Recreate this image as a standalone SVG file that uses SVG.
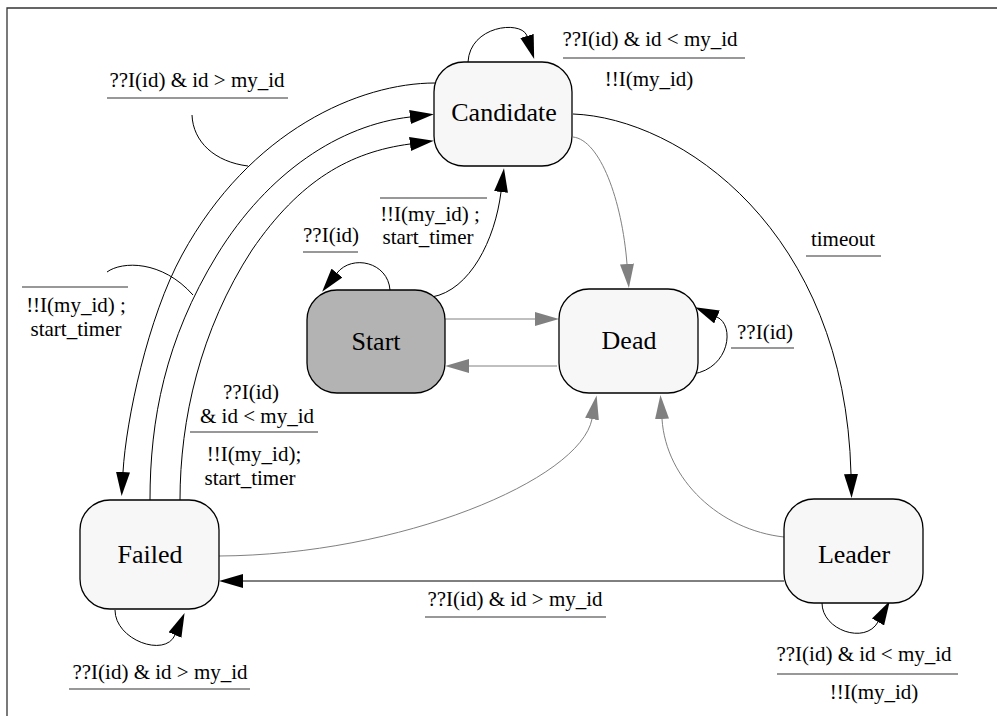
<svg xmlns="http://www.w3.org/2000/svg" width="997" height="716" viewBox="0 0 997 716">
  <style>
    .frame { fill: none; stroke: #333333; stroke-width: 1.3; }
    .node rect { fill: #f7f7f7; stroke: #000000; stroke-width: 1.3; }
    .node.initial rect { fill: #b3b3b3; }
    .node text { font-family: "Liberation Serif", "Times New Roman", serif; font-size: 26px; fill: #000000; text-anchor: middle; }
    .edge { fill: none; stroke: #000000; stroke-width: 1; }
    .edge.grey { stroke: #808080; }
    .rule { stroke: #333333; stroke-width: 1.2; }
    .deco { fill: none; stroke: #000000; stroke-width: 1; }
    .lbl { font-family: "Liberation Serif", "Times New Roman", serif; font-size: 21px; fill: #000000; text-anchor: middle; }
  </style>
  <defs>
    <marker id="arrow" markerUnits="userSpaceOnUse" viewBox="0 0 24 14" markerWidth="24" markerHeight="14" refX="0" refY="7" orient="auto">
      <path d="M0,0 L24,7 L0,14 Z" fill="#000000"/>
    </marker>
    <marker id="arrow-grey" markerUnits="userSpaceOnUse" viewBox="0 0 24 14" markerWidth="24" markerHeight="14" refX="0" refY="7" orient="auto">
      <path d="M0,0 L24,7 L0,14 Z" fill="#808080"/>
    </marker>
  </defs>

  <rect width="997" height="716" fill="#ffffff"/>
  <!-- outer frame (top and left edges) -->
  <path class="frame" d="M7,716 V8 H997"/>

  <g id="connectors">
    <!-- Candidate self-loop -->
    <g id="e-candidate-candidate">
      <path class="edge" d="M468,62 C470,25 522,20 527,36" marker-end="url(#arrow)"/>
      <text class="lbl" x="650" y="46">??I(id) &amp; id &lt; my_id</text>
      <line class="rule" x1="563" y1="58" x2="745" y2="58"/>
      <text class="lbl" x="649" y="86">!!I(my_id)</text>
    </g>
    <!-- Candidate to Failed -->
    <g id="e-candidate-failed">
      <path class="edge" d="M435,83 C360,83 250,130 182,255 C148,317 126,420 123,472" marker-end="url(#arrow)"/>
      <text class="lbl" x="197" y="87">??I(id) &amp; id &gt; my_id</text>
      <line class="rule" x1="107" y1="98" x2="288" y2="98"/>
      <path class="deco" d="M192,115 C193,142 215,162 248,166"/>
    </g>
    <!-- Failed to Candidate (timer restart) -->
    <g id="e-failed-candidate-1">
      <path class="edge" d="M150,500 C150,420 165,340 217,255 C268,172 340,125 410,117" marker-end="url(#arrow)"/>
      <line class="rule" x1="22" y1="287" x2="128" y2="287"/>
      <text class="lbl" x="76" y="312">!!I(my_id) ;</text>
      <text class="lbl" x="76" y="336">start_timer</text>
      <path class="deco" d="M107,272 C122,261 162,260 193,295"/>
    </g>
    <!-- Failed to Candidate (smaller id) -->
    <g id="e-failed-candidate-2">
      <path class="edge" d="M180,500 C180,420 200,330 252,250 C300,180 350,152 410,144" marker-end="url(#arrow)"/>
      <text class="lbl" x="251" y="399">??I(id)</text>
      <text class="lbl" x="257" y="423">&amp; id &lt; my_id</text>
      <line class="rule" x1="190" y1="432" x2="318" y2="432"/>
      <text class="lbl" x="254" y="461">!!I(my_id);</text>
      <text class="lbl" x="250" y="485">start_timer</text>
    </g>
    <!-- Start self-loop -->
    <g id="e-start-start">
      <path class="edge" d="M390,290 C388,262 352,254 337,273" marker-end="url(#arrow)"/>
      <text class="lbl" x="331" y="242">??I(id)</text>
      <line class="rule" x1="303" y1="252" x2="358" y2="252"/>
    </g>
    <!-- Start to Candidate -->
    <g id="e-start-candidate">
      <path class="edge" d="M432,297 C470,290 495,240 501,192" marker-end="url(#arrow)"/>
      <line class="rule" x1="380" y1="198" x2="487" y2="198"/>
      <text class="lbl" x="430" y="221">!!I(my_id) ;</text>
      <text class="lbl" x="428" y="244">start_timer</text>
    </g>
    <!-- Start to Dead -->
    <g id="e-start-dead">
      <path class="edge grey" d="M445,319 H535" marker-end="url(#arrow-grey)"/>
    </g>
    <!-- Dead to Start -->
    <g id="e-dead-start">
      <path class="edge grey" d="M557,366 H469" marker-end="url(#arrow-grey)"/>
    </g>
    <!-- Candidate to Dead -->
    <g id="e-candidate-dead">
      <path class="edge grey" d="M573,137 C600,140 622,200 627,264" marker-end="url(#arrow-grey)"/>
    </g>
    <!-- Candidate to Leader -->
    <g id="e-candidate-leader">
      <path class="edge" d="M573,114 C680,118 845,230 851,474" marker-end="url(#arrow)"/>
      <text class="lbl" x="843" y="246">timeout</text>
      <line class="rule" x1="806" y1="256" x2="881" y2="256"/>
    </g>
    <!-- Dead self-loop -->
    <g id="e-dead-dead">
      <path class="edge" d="M693,374 C730,368 735,325 717,317" marker-end="url(#arrow)"/>
      <text class="lbl" x="765" y="339">??I(id)</text>
      <line class="rule" x1="731" y1="348" x2="794" y2="348"/>
    </g>
    <!-- Failed to Dead -->
    <g id="e-failed-dead">
      <path class="edge grey" d="M219,556 C400,555 580,480 592,419" marker-end="url(#arrow-grey)"/>
    </g>
    <!-- Leader to Dead -->
    <g id="e-leader-dead">
      <path class="edge grey" d="M784,537 C720,530 666,480 662,419" marker-end="url(#arrow-grey)"/>
    </g>
    <!-- Leader to Failed -->
    <g id="e-leader-failed">
      <path class="edge" d="M784,581 H243" marker-end="url(#arrow)"/>
      <text class="lbl" x="515" y="606">??I(id) &amp; id &gt; my_id</text>
      <line class="rule" x1="425" y1="617" x2="606" y2="617"/>
    </g>
    <!-- Failed self-loop -->
    <g id="e-failed-failed">
      <path class="edge" d="M115,610 C115,640 165,658 175,635" marker-end="url(#arrow)"/>
      <text class="lbl" x="160" y="679">??I(id) &amp; id &gt; my_id</text>
      <line class="rule" x1="69" y1="689" x2="250" y2="689"/>
    </g>
    <!-- Leader self-loop -->
    <g id="e-leader-leader">
      <path class="edge" d="M822,603 C822,630 865,645 878,622" marker-end="url(#arrow)"/>
      <text class="lbl" x="864" y="661">??I(id) &amp; id &lt; my_id</text>
      <line class="rule" x1="777" y1="674" x2="958" y2="674"/>
      <text class="lbl" x="874" y="699">!!I(my_id)</text>
    </g>
  </g>

  <g id="node-candidate" class="node">
    <rect x="434" y="62" width="138" height="104" rx="30" ry="30"/>
    <text x="504" y="121">Candidate</text>
  </g>
  <g id="node-start" class="node initial">
    <rect x="307" y="290" width="138" height="103" rx="30" ry="30"/>
    <text x="376" y="350">Start</text>
  </g>
  <g id="node-dead" class="node">
    <rect x="559" y="289" width="139" height="104" rx="30" ry="30"/>
    <text x="629" y="349">Dead</text>
  </g>
  <g id="node-failed" class="node">
    <rect x="80" y="500" width="139" height="109" rx="30" ry="30"/>
    <text x="150" y="563">Failed</text>
  </g>
  <g id="node-leader" class="node">
    <rect x="784" y="499" width="139" height="104" rx="30" ry="30"/>
    <text x="854" y="563">Leader</text>
  </g>
</svg>
